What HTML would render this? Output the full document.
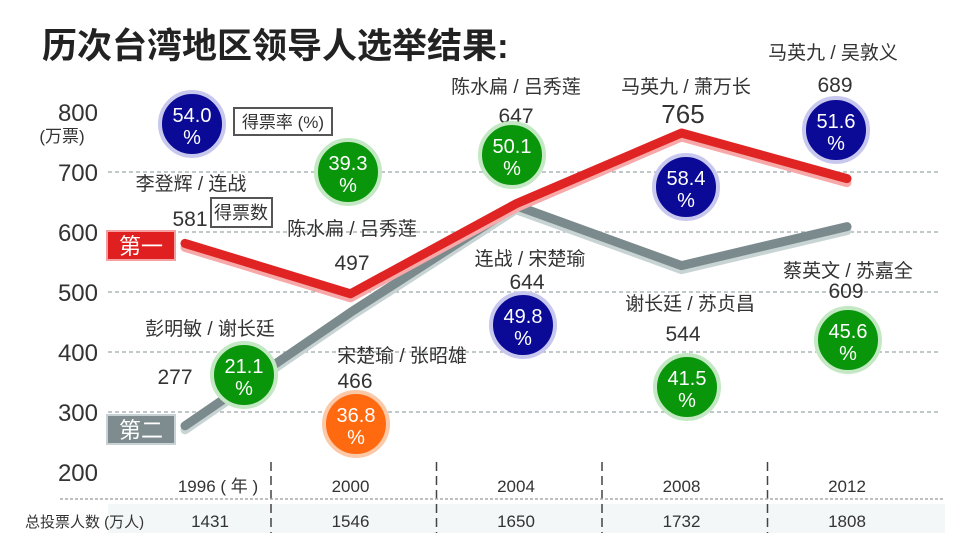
<!DOCTYPE html>
<html><head><meta charset="utf-8"><style>
body{margin:0;width:960px;height:533px;overflow:hidden;background:#fff;font-family:"Liberation Sans","Noto Sans CJK SC",sans-serif;}
svg text{font-family:"Liberation Sans","Noto Sans CJK SC",sans-serif;}
</style></head><body>
<svg id="chart" width="960" height="533" viewBox="0 0 960 533">
<rect x="108" y="504" width="837" height="29" fill="#f3f7f7"/>
<text x="42" y="58" font-size="35" font-weight="bold" fill="#222">历次台湾地区领导人选举结果:</text>
<g id="grid"></g><g id="axis"></g><g id="lines"></g><g id="labels"></g><g id="circles"></g><g id="bottom"></g>
<g><rect x="234" y="108" width="98" height="27" fill="#fff" stroke="#555" stroke-width="2"/><text x="283" y="128" font-size="17" text-anchor="middle" fill="#333">得票率 (%)</text></g>
<g><rect x="211" y="198" width="61" height="29" fill="#fff" stroke="#555" stroke-width="2"/><text x="241" y="219" font-size="18" text-anchor="middle" fill="#333">得票数</text></g>
<g><rect x="107" y="231" width="68" height="29" fill="#e02020" stroke="#f4a0a0" stroke-width="2"/><text x="141" y="254" font-size="22" text-anchor="middle" fill="#fff">第一</text></g>
<g><rect x="107" y="415" width="68" height="29" fill="#7f8c8f" stroke="#c8d2d4" stroke-width="2"/><text x="141" y="438" font-size="22" text-anchor="middle" fill="#fff">第二</text></g>
</svg>
<script>
const years=["1996","2000","2004","2008","2012"];
const firstVotes=[581,497,647,765,689];
const secondVotes=[277,466,644,544,609];
const firstNames=["李登辉 / 连战","陈水扁 / 吕秀莲","陈水扁 / 吕秀莲","马英九 / 萧万长","马英九 / 吴敦义"];
const secondNames=["彭明敏 / 谢长廷","宋楚瑜 / 张昭雄","连战 / 宋楚瑜","谢长廷 / 苏贞昌","蔡英文 / 苏嘉全"];
const firstRates=["54.0","39.3","50.1","58.4","51.6"];
const secondRates=["21.1","36.8","49.8","41.5","45.6"];
const firstRateColors=["#0a0a96","#0a960a","#0a960a","#0a0a96","#0a0a96"];
const secondRateColors=["#0a960a","#ff6a10","#0a0a96","#0a960a","#0a960a"];
const totals=["1431","1546","1650","1732","1808"];
const yTicks=[800,700,600,500,400,300,200];
const NS="http://www.w3.org/2000/svg";
const xs=i=>185+i*165.5;
const ys=v=>472-(v-200)*0.6;
function mk(parent,tag,attrs,text){const e=document.createElementNS(NS,tag);for(const k in attrs)e.setAttribute(k,attrs[k]);if(text!==undefined)e.textContent=text;document.getElementById(parent).appendChild(e);return e;}
yTicks.forEach(v=>{
  const t=mk('axis','text',{x:98,y:ys(v)+9,'font-size':24,'text-anchor':'end',fill:'#333'},String(v));
  
  
  if(v<800&&v>200){const g=mk('grid','line',{x1:108,x2:940,y1:ys(v),y2:ys(v),stroke:'#9aa8ab','stroke-width':1.2,'stroke-dasharray':'4 3'});
  
  }
});
const u=mk('axis','text',{x:62,y:142,'font-size':17,'text-anchor':'middle',fill:'#333'},'(万票)');


function series(vals,color,shadow,name){
  const pts=vals.map((v,i)=>xs(i)+','+ys(v)).join(' ');
  const pts2=vals.map((v,i)=>xs(i)+','+(ys(v)+4)).join(' ');
  const s=mk('lines','polyline',{points:pts2,fill:'none',stroke:shadow,'stroke-width':9,'stroke-linecap':'round','stroke-linejoin':'round'});
  
  
  const l=mk('lines','polyline',{points:pts,fill:'none',stroke:color,'stroke-width':9,'stroke-linecap':'round','stroke-linejoin':'round'});
  
  
}
series(secondVotes,'#7b8a8c','#c8d4d4','second-place-line');
series(firstVotes,'#e02424','#f7a8a8','first-place-line');
const fNameY=[183,228,86,86,52],fValY=[218,262,115,115,84],fValX=[190,352,516,683,835],fNameX=[191,352,516,686,833];
const sNameY=[328,355,258,303,270],sValY=[376,380,281,333,290],sValX=[175,355,527,683,846],sNameX=[210,402,530,690,848];
const fCirc=[[192,124],[348,172],[512,155],[686,187],[836,130]];
const sCirc=[[244,375],[356,424],[523,325],[687,387],[848,340]];
years.forEach((y,i)=>{
  let t=mk('labels','text',{x:fNameX[i],y:fNameY[i]+7,'font-size':19,'text-anchor':'middle',fill:'#333'},firstNames[i]);
  
  
  t=mk('labels','text',{x:fValX[i],y:fValY[i]+8,'font-size':i==3?26:21,'text-anchor':'middle',fill:'#333'},firstVotes[i]);
  
  
  t=mk('labels','text',{x:sNameX[i],y:sNameY[i]+7,'font-size':19,'text-anchor':'middle',fill:'#333'},secondNames[i]);
  
  
  t=mk('labels','text',{x:sValX[i],y:sValY[i]+8,'font-size':21,'text-anchor':'middle',fill:'#333'},secondVotes[i]);
  
  
  [[fCirc[i],firstRates[i],firstRateColors[i],'winner-rate-'],[sCirc[i],secondRates[i],secondRateColors[i],'runner-up-rate-']].forEach(([c,r,col,nm])=>{
    const halo=col=='#0a0a96'?'#c8c8ee':col=='#0a960a'?'#c4e8c4':'#fbc9a8';
    const g=mk('circles','g',{});
    
    
    const e=document.createElementNS(NS,'circle');e.setAttribute('cx',c[0]);e.setAttribute('cy',c[1]);e.setAttribute('r',32);e.setAttribute('fill',col);e.setAttribute('stroke',halo);e.setAttribute('stroke-width',4);g.appendChild(e);
    const a=document.createElementNS(NS,'text');a.setAttribute('x',c[0]);a.setAttribute('y',c[1]-2);a.setAttribute('font-size',20);a.setAttribute('text-anchor','middle');a.setAttribute('fill','#fff');a.textContent=r;g.appendChild(a);
    const b=document.createElementNS(NS,'text');b.setAttribute('x',c[0]);b.setAttribute('y',c[1]+20);b.setAttribute('font-size',20);b.setAttribute('text-anchor','middle');b.setAttribute('fill','#fff');b.textContent='%';g.appendChild(b);
  });
  const yl=mk('bottom','text',{x:i==0?218:xs(i),y:492,'font-size':17,'text-anchor':'middle',fill:'#333'},i==0?'1996 ( 年 )':y);
  
  
  const tl=mk('bottom','text',{x:i==0?210:xs(i),y:527,'font-size':17,'text-anchor':'middle',fill:'#333'},totals[i]);
  
  
  if(i<4){const d=mk('bottom','line',{x1:271+i*165.5,x2:271+i*165.5,y1:462,y2:533,stroke:'#444','stroke-width':1.5,'stroke-dasharray':'9 5'});
  
  }
});
const sep=mk('bottom','line',{x1:60,x2:945,y1:499,y2:499,stroke:'#aaa','stroke-width':1.5,'stroke-dasharray':'3 2'});


const tt=mk('bottom','text',{x:25,y:527,'font-size':15,fill:'#333'},'总投票人数 (万人)');


</script>
</body></html>
